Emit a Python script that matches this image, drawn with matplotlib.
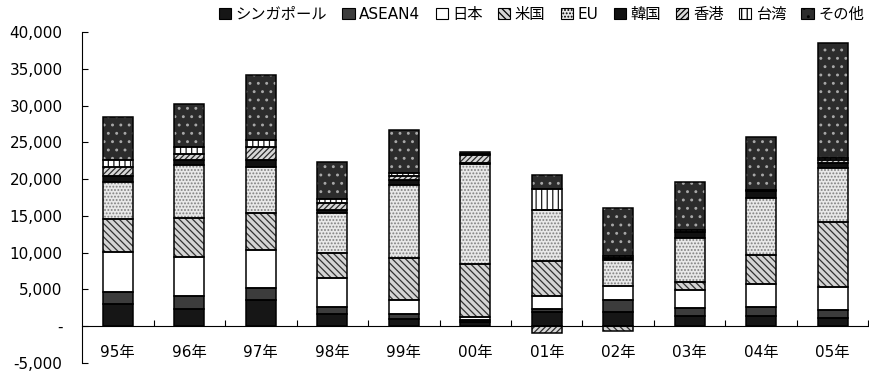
import numpy as np
import matplotlib
matplotlib.use('Agg')
import matplotlib.pyplot as plt
from matplotlib.patches import Patch
from matplotlib.ticker import FuncFormatter, FixedLocator

plt.rcParams['font.family'] = ['DejaVu Sans', 'Noto Sans CJK JP']
plt.rcParams['hatch.linewidth'] = 0.9

years = ['95年', '96年', '97年', '98年', '99年', '00年', '01年', '02年', '03年', '04年', '05年']
names = ['シンガポール', 'ASEAN4', '日本', '米国', 'EU', '韓国', '香港', '台湾', 'その他']

singapore = [2990, 2410, 3540, 1730, 1050, 600, 1950, 1950, 1400, 1360, 1180]
asean4 = [1670, 1670, 1670, 900, 590, 200, 460, 1590, 1140, 1270, 1090]
japan = [5440, 5270, 5130, 3950, 1900, 450, 1670, 1900, 2350, 3090, 3070]
usa = [4450, 5310, 4990, 3320, 5760, 7260, 4760, -680, 1130, 3950, 8840]
eu = [5070, 7250, 6350, 5520, 9890, 13600, 6940, 3540, 6040, 7710, 7270]
korea = [780, 680, 910, 370, 680, 70, 0, 230, 720, 950, 760]
hongkong = [1180, 820, 1730, 1000, 540, 1090, -910, 0, 0, 0, 370]
taiwan = [1000, 910, 1000, 460, 370, 200, 2820, 270, 370, 200, 310]
other = [5810, 5850, 8840, 5120, 5920, 270, 1950, 6570, 6480, 7160, 15560]

series = [singapore, asean4, japan, usa, eu, korea, hongkong, taiwan, other]
# (face colour, hatch, hatch colour)
styles = [
    ('#161616', None, None),
    ('#3c3c3c', None, None),
    ('#ffffff', None, None),
    ('#d4d4d4', '\\\\\\\\\\', '#333333'),
    ('#e8e8e8', '.....', '#808080'),
    ('#111111', None, None),
    ('#d8d8d8', '//////', '#2a2a2a'),
    ('#ffffff', '|||', '#1a1a1a'),
    ('#2c2c2c', '..', '#a8a8a8'),
]

fig = plt.figure(figsize=(8.69, 3.74), dpi=100)
ax = fig.add_axes([0.0944, 0.0294, 0.905, 0.885])

x = np.arange(len(years))
w = 0.42
pos_base = np.zeros(len(years))
neg_base = np.zeros(len(years))
for vals, (fc, hatch, hc) in zip(series, styles):
    v = np.array(vals, dtype=float)
    bottom = np.where(v >= 0, pos_base, neg_base)
    ax.bar(x, v, w, bottom=bottom, color=fc, hatch=hatch,
           edgecolor=hc if hc else fc, linewidth=0, zorder=2)
    ax.bar(x, v, w, bottom=bottom, fill=False, edgecolor='black',
           linewidth=1.1, zorder=3)
    pos_base += np.where(v >= 0, v, 0)
    neg_base += np.where(v < 0, v, 0)

ax.set_xlim(-0.5, len(years) - 0.5)
ax.set_ylim(-5000, 40000)
ax.set_yticks(np.arange(-5000, 40001, 5000))
ax.yaxis.set_major_formatter(FuncFormatter(lambda v, p: '-' if v == 0 else f'{int(v):,}'))
ax.tick_params(axis='y', direction='in', length=4, width=0.8, pad=14, labelsize=11)

for s in ['top', 'right']:
    ax.spines[s].set_visible(False)
ax.spines['bottom'].set_position(('data', 0))
ax.spines['bottom'].set_linewidth(0.8)
ax.spines['left'].set_linewidth(0.8)
ax.xaxis.set_major_locator(FixedLocator(x + 0.5))
ax.xaxis.set_ticklabels([])
ax.tick_params(axis='x', direction='in', length=4, width=0.8)

for i, lab in enumerate(years):
    ax.text(i, -3550, lab, ha='center', va='center', fontsize=11)

handles = [Patch(facecolor=fc, hatch=hatch, edgecolor='black', linewidth=0.8)
           for fc, hatch, hc in styles]
fig.legend(handles, names, loc='center', bbox_to_anchor=(0.623, 0.962), ncol=9,
           frameon=False, fontsize=11, handlelength=0.8, handleheight=0.8,
           handletextpad=0.3, columnspacing=1.0, borderaxespad=0)

fig.savefig('out.png', dpi=100)
